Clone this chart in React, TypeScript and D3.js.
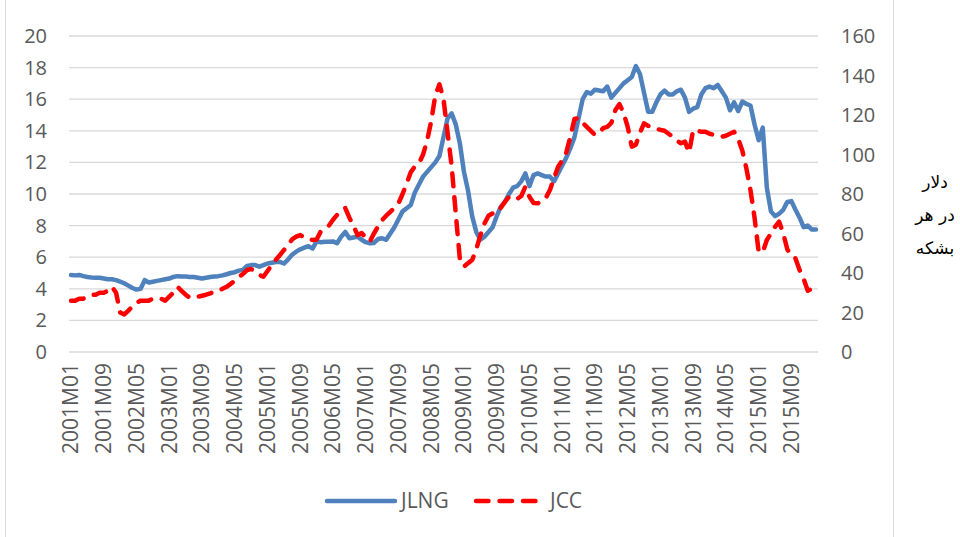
import * as d3 from "d3";
import React, { useRef, useEffect } from "react";

// monthly series, 2001M01 .. 2016M03
const jlng = [
  4.87, 4.85, 4.88, 4.8, 4.75, 4.72, 4.7, 4.7, 4.65, 4.6,
  4.6, 4.55, 4.45, 4.35, 4.2, 4.05, 3.95, 4.0, 4.55, 4.4,
  4.45, 4.5, 4.55, 4.6, 4.65, 4.75, 4.8, 4.78, 4.78, 4.75,
  4.75, 4.7, 4.65, 4.7, 4.75, 4.78, 4.8, 4.85, 4.92, 5.0,
  5.05, 5.15, 5.2, 5.45, 5.5, 5.5, 5.4, 5.5, 5.6, 5.65,
  5.7, 5.7, 5.6, 5.85, 6.15, 6.35, 6.5, 6.6, 6.7, 6.55,
  7.0, 6.95, 6.98, 6.98, 7.0, 6.88, 7.3, 7.6, 7.2, 7.25,
  7.3, 7.1, 6.95, 6.88, 6.9, 7.15, 7.2, 7.1, 7.5, 7.9,
  8.4, 8.9, 9.1, 9.3, 10.1, 10.6, 11.1, 11.4, 11.7, 12.0,
  12.4, 13.6, 14.8, 15.1, 14.4, 13.2, 11.4, 10.2, 8.6, 7.6,
  7.1, 7.3, 7.6, 7.9, 8.6, 9.2, 9.5, 10.0, 10.4, 10.5,
  10.8, 11.3, 10.5, 11.2, 11.3, 11.2, 11.1, 11.1, 10.8, 11.3,
  11.8, 12.3, 12.9, 13.6, 14.8, 16.0, 16.45, 16.35, 16.6, 16.55,
  16.5, 16.8, 16.1, 16.4, 16.7, 17.0, 17.2, 17.4, 18.1, 17.6,
  16.4, 15.2, 15.2, 15.8, 16.3, 16.55, 16.3, 16.3, 16.5, 16.6,
  16.1, 15.2, 15.4, 15.5, 16.3, 16.7, 16.8, 16.7, 16.9, 16.5,
  16.1, 15.3, 15.8, 15.25, 15.85, 15.7, 15.6, 14.4, 13.4, 14.2,
  10.4, 8.9, 8.6, 8.75, 9.0, 9.5, 9.55, 9.0, 8.5, 7.9,
  8.0, 7.75, 7.75,
];

const jcc = [
  26, 26, 27, 27, 28, 29, 29, 30, 30, 31,
  33, 30, 20, 19, 21, 23, 25, 26, 26, 26,
  27, 27, 27, 26, 28, 30, 33, 31, 29, 27.5,
  27.5, 28, 28.5, 29, 29.7, 30.5, 31, 32, 33, 34.5,
  36, 38, 39.5, 41.5, 42, 40.7, 39, 38.1, 41, 44,
  46.6, 49, 51.6, 54, 57, 58.4, 59.2, 58, 57.7, 56.7,
  57, 61, 62.5, 64, 67, 69.4, 71, 72.9, 68, 64,
  59.2, 60.2, 58, 55.9, 60, 63.5, 66.8, 69, 71, 73,
  75.3, 80, 85.4, 91, 94, 95.5, 100, 107, 117, 130,
  135.5, 128, 111, 94, 70, 47, 43.2, 45, 46.6, 52,
  59, 65, 69, 70.2, 70.2, 73, 76, 78.6, 78.6, 77.5,
  79, 83.7, 78.6, 75.5, 75.3, 76.1, 78, 82, 88, 93.8,
  97, 101, 109, 118, 118.5, 116, 114, 112, 109.9, 111,
  113.3, 114, 116, 122.5, 125.5, 121, 114, 104, 105, 111,
  115.8, 114.5, 114, 113, 112.5, 112, 110.5, 109, 107, 105.7,
  106.5, 101, 112.4, 112, 111.5, 111.5, 110.5, 110, 109.5, 109,
  109.5, 110.5, 111.5, 108, 102, 93, 82, 68, 50.8, 50.5,
  56.7, 60, 63.4, 66, 60.1, 52, 48.5, 47.4, 41.5, 37,
  31, 32, 35,
];

const months = jlng.map((_, i) => {
  const y = 2001 + Math.floor(i / 12);
  const m = (i % 12) + 1;
  return y + "M" + (m < 10 ? "0" + m : m);
});

const leftTicks = [0, 2, 4, 6, 8, 10, 12, 14, 16, 18, 20];
const rightTicks = [0, 20, 40, 60, 80, 100, 120, 140, 160];
const unitLines = ["دلار", "در هر", "بشکه"];

const font = "'Open Sans', sans-serif";
const grey = "#595959";

function App() {
  const ref = useRef();

  useEffect(() => {
    const svg = d3.select(ref.current);
    svg.selectAll("*").remove();

    const x = d3.scaleBand().domain(months).range([69, 818]);
    const xc = (m) => x(m) + x.bandwidth() / 2;
    const yL = d3.scaleLinear().domain([0, 20]).range([352, 36]);
    const yR = d3.scaleLinear().domain([0, 160]).range([352, 36]);

    // frame
    svg.append("line").attr("x1", 5.5).attr("x2", 5.5).attr("y1", 0).attr("y2", 537)
      .attr("stroke", "#d9d9d9").attr("stroke-width", 1);
    svg.append("line").attr("x1", 893.5).attr("x2", 893.5).attr("y1", 0).attr("y2", 537)
      .attr("stroke", "#d9d9d9").attr("stroke-width", 1);

    // grid
    svg.append("g").selectAll("line").data(leftTicks).enter().append("line")
      .attr("x1", 69).attr("x2", 818)
      .attr("y1", (d) => yL(d)).attr("y2", (d) => yL(d))
      .attr("stroke", "#d9d9d9").attr("stroke-width", 1.3);

    // left axis labels
    svg.append("g").selectAll("text").data(leftTicks).enter().append("text")
      .attr("x", 47).attr("y", (d) => yL(d)).attr("dy", "0.35em")
      .attr("text-anchor", "end").attr("font-family", font).attr("font-size", 20)
      .attr("fill", grey).text((d) => d);

    // right axis labels
    svg.append("g").selectAll("text").data(rightTicks).enter().append("text")
      .attr("x", 841).attr("y", (d) => yR(d)).attr("dy", "0.35em")
      .attr("text-anchor", "start").attr("font-family", font).attr("font-size", 20)
      .attr("fill", grey).text((d) => d);

    // x labels every 8 months
    svg.append("g").selectAll("text").data(months.filter((_, i) => i % 8 === 0)).enter()
      .append("text")
      .attr("transform", (d) => "translate(" + xc(d) + ",363) rotate(-90)")
      .attr("dy", "0.35em").attr("text-anchor", "end")
      .attr("font-family", font).attr("font-size", 21).attr("fill", grey)
      .text((d) => d);

    // series
    const lineL = d3.line().x((d, i) => xc(months[i])).y((d) => yL(d));
    const lineR = d3.line().x((d, i) => xc(months[i])).y((d) => yR(d));

    svg.append("path").attr("d", lineL(jlng)).attr("fill", "none")
      .attr("stroke", "#4f81bd").attr("stroke-width", 4.5)
      .attr("stroke-linejoin", "round").attr("stroke-linecap", "round");
    svg.append("path").attr("d", lineR(jcc)).attr("fill", "none")
      .attr("stroke", "#ff0000").attr("stroke-width", 4.5)
      .attr("stroke-dasharray", "13 11")
      .attr("stroke-linejoin", "round").attr("stroke-linecap", "round");

    // legend
    svg.append("line").attr("x1", 327).attr("x2", 395).attr("y1", 501).attr("y2", 501)
      .attr("stroke", "#4f81bd").attr("stroke-width", 4.5).attr("stroke-linecap", "round");
    svg.append("text").attr("x", 401).attr("y", 501).attr("dy", "0.35em")
      .attr("font-family", font).attr("font-size", 21).attr("fill", grey).text("JLNG");
    svg.append("line").attr("x1", 476).attr("x2", 536).attr("y1", 501).attr("y2", 501)
      .attr("stroke", "#ff0000").attr("stroke-width", 4.5)
      .attr("stroke-dasharray", "12.5 11").attr("stroke-linecap", "round");
    svg.append("text").attr("x", 550).attr("y", 501).attr("dy", "0.35em")
      .attr("font-family", font).attr("font-size", 21).attr("fill", grey).text("JCC");

    // unit label
    svg.append("g").selectAll("text").data(unitLines).enter().append("text")
      .attr("x", 935).attr("y", (d, i) => 182 + i * 33).attr("dy", "0.35em")
      .attr("text-anchor", "middle").attr("font-family", "'DejaVu Sans', sans-serif")
      .attr("font-size", 17).attr("fill", "#000").text((d) => d);
  }, []);

  return (
    <svg ref={ref} width={960} height={537}
      style={{ position: "absolute", left: 0, top: 0, background: "#fff" }} />
  );
}

export default App;
